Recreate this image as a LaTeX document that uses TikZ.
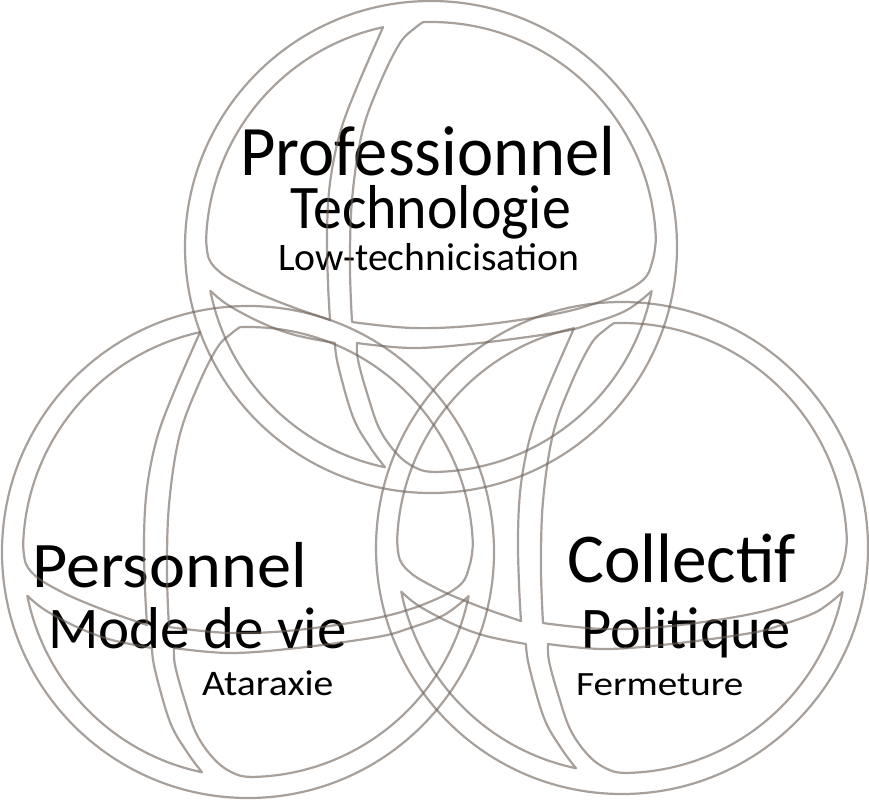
\documentclass[tikz,border=0pt]{standalone}
\usepackage{fontspec}
\setmainfont{Carlito}
\definecolor{ln}{RGB}{110,98,88}
\tikzset{
  ring/.style={draw=ln, draw opacity=0.6, line width=2.2pt, line join=round},
  lbl/.style={anchor=base west, inner sep=0pt, text=black},
}
\newcommand\spherepat{%
  \draw[ring] (0,0) circle[radius=246];
  % top-left quarter
  \draw[ring] (257.7:225) arc[start angle=257.7, end angle=182, radius=225]
    -- plot[smooth,tension=0.6] coordinates {(182:225) (-222,12) (-210,26) (-190,38) (-169,48) (-136,61) (-101,73)}
    -- plot[smooth,tension=0.6] coordinates {(-101,73) (-103,36) (-104,-14) (-101,-64) (-91,-114) (-74,-160) (257.7:225)} -- cycle;
  % top-right quarter
  \draw[ring] (268:225) arc[start angle=268, end angle=358, radius=225]
    -- plot[smooth,tension=0.6] coordinates {(358:225) (222,12) (212,33) (179,51) (129,66) (49,78) (-18,81) (-79,75)}
    -- plot[smooth,tension=0.6] coordinates {(-79,75) (-81,20) (-79,-47) (-69,-114) (-51,-164) (-31,-204) (-16,-219) (268:225)} -- cycle;
  % bottom-left quarter
  \draw[ring] (168.8:225) -- plot[smooth,tension=0.6] coordinates {(168.8:225) (-203,58) (-169,76) (-136,88) (-96,96)}
    -- plot[smooth,tension=0.6] coordinates {(-96,96) (-93,118) (-78,170) (-61,200) (101.8:225)}
    arc[start angle=101.8, end angle=168.8, radius=225] -- cycle;
  % bottom-right quarter
  \draw[ring] (-74,96) -- plot[smooth,tension=0.6] coordinates {(-74,96) (-18,101) (49,96) (129,85) (162,76) (196,63) (11.3:225)}
    arc[start angle=11.3, end angle=88, radius=225]
    -- plot[smooth,tension=0.6] coordinates {(88:225) (-10,223) (-31,210) (-51,183) (-64,146) (-73,113) (-74,96)} -- cycle;
}
\begin{document}
\begin{tikzpicture}[x=1pt,y=-1pt]
  \useasboundingbox (0,0) rectangle (869,800);

  \node[lbl, font=\fontsize{71}{71}\selectfont] (prof) at (240,175) {\scalebox{0.966}[1]{Professionnel}};
  \node[lbl, font=\fontsize{62}{62}\selectfont] (tech) at (290,228) {\scalebox{0.933}[1]{Technologie}};
  \node[lbl, font=\fontsize{39}{39}\selectfont] (low) at (278,270) {\scalebox{1.017}[1]{Low-technicisation}};

  \node[lbl, font=\fontsize{65}{65}\selectfont] (pers) at (32,587) {\scalebox{1.05}[1]{Personnel}};
  \node[lbl, font=\fontsize{59}{59}\selectfont] (mode) at (48,648) {Mode de vie};
  \node[lbl, font=\fontsize{36}{36}\selectfont] (atar) at (202,695) {\scalebox{1.10}[1]{Ataraxie}};

  \node[lbl, font=\fontsize{70}{70}\selectfont] (coll) at (567,582) {\scalebox{0.99}[1]{Collectif}};
  \node[lbl, font=\fontsize{59}{59}\selectfont] (poli) at (581,648) {\scalebox{0.99}[1]{Politique}};
  \node[lbl, font=\fontsize{34}{34}\selectfont] (ferm) at (576,695) {\scalebox{1.15}[1]{Fermeture}};

  \begin{scope}[shift={(431,247)}] \spherepat \end{scope}
  \begin{scope}[shift={(248,552)}] \spherepat \end{scope}
  \begin{scope}[shift={(622,548)}] \spherepat \end{scope}
\end{tikzpicture}
\end{document}
